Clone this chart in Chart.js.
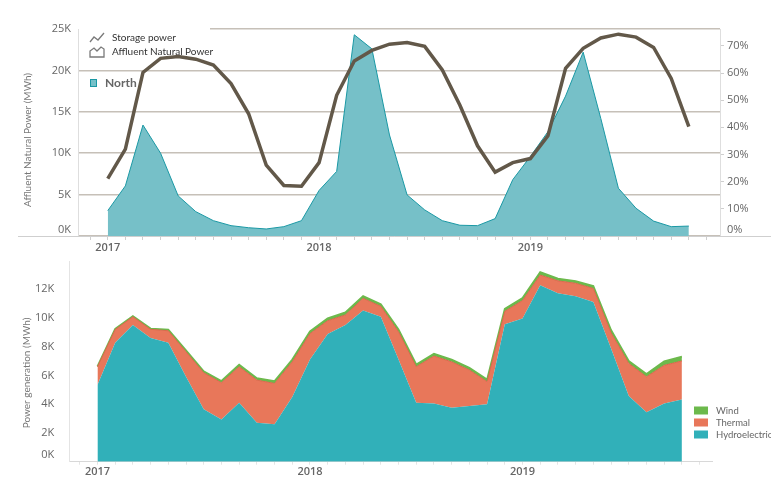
<!DOCTYPE html>
<html>
<head>
<meta charset="utf-8">
<script src="https://cdn.jsdelivr.net/npm/chart.js"></script>
<style>
  body { margin: 0; background: #fff; width: 771px; height: 477px; overflow: hidden; position: relative; }
  canvas { position: absolute; left: 0; }
  #topChart { top: 0; }
  #bottomChart { top: 252px; }
</style>
</head>
<body>
<canvas id="topChart" width="771" height="252"></canvas>
<canvas id="bottomChart" width="771" height="225"></canvas>
<script>
// データ
const months = [
  '2017-01','2017-02','2017-03','2017-04','2017-05','2017-06','2017-07','2017-08','2017-09','2017-10','2017-11','2017-12',
  '2018-01','2018-02','2018-03','2018-04','2018-05','2018-06','2018-07','2018-08','2018-09','2018-10','2018-11','2018-12',
  '2019-01','2019-02','2019-03','2019-04','2019-05','2019-06','2019-07','2019-08','2019-09','2019-10'
];
const yearLabels = ['2017', '2018', '2019'];

// 上段：North の自然流入電力 (MWh) と貯水率 (%)
const northMWh = [3060, 6050, 13400, 10000, 4840, 2940, 1850, 1250, 1000, 850, 1130, 1850,
  5500, 7800, 24300, 22600, 12200, 4960, 3150, 1850, 1300, 1250, 2100, 6800,
  9600, 12600, 16900, 22200, 14200, 5770, 3350, 1800, 1130, 1200];
const storagePct = [21.1, 32.0, 60.2, 65.4, 66.1, 65.1, 62.9, 56.1, 45.0, 26.1, 18.6, 18.3,
  27.0, 51.8, 64.4, 68.3, 70.6, 71.2, 69.8, 61.1, 48.1, 33.2, 23.5, 27.0,
  28.5, 36.9, 61.7, 69.1, 72.9, 74.3, 73.2, 69.4, 58.0, 40.3];
const annTicks = [0, 5000, 10000, 15000, 20000, 25000];
const pctTicks = [0, 10, 20, 30, 40, 50, 60, 70];

// 下段：発電量 (MWh)
const hydroMWh = [5330, 8270, 9500, 8600, 8270, 5900, 3640, 2940, 4100, 2700, 2600, 4500,
  7100, 8870, 9500, 10500, 10070, 7100, 4100, 4050, 3750, 3870, 4000, 9550,
  9960, 12270, 11700, 11500, 11100, 7870, 4560, 3430, 4050, 4330];
const thermalMWh = [1270, 920, 570, 600, 830, 1740, 2540, 2550, 2500, 2970, 2840, 2440,
  1800, 930, 700, 850, 730, 1930, 2500, 3290, 3190, 2500, 1560, 900,
  1240, 700, 870, 900, 940, 1090, 2270, 2470, 2650, 2670];
const windMWh = [30, 40, 50, 50, 80, 100, 100, 120, 140, 140, 160, 160,
  160, 160, 180, 160, 150, 160, 160, 160, 160, 160, 150, 170,
  180, 200, 160, 150, 170, 190, 170, 200, 270, 300];
const genTicks = [0, 2000, 4000, 6000, 8000, 10000, 12000];

// 色
const NORTH_FILL = 'rgba(118, 192, 200, 1)';
const NORTH_LINE = '#1a98a4';
const STORAGE_LINE = '#625849';
const HYDRO = '#31b0b9';
const THERMAL = '#e8775a';
const WIND = '#6cb94c';
const GRID = '#c6c0b8';

Chart.defaults.font.family = "'Open Sans', sans-serif";
Chart.defaults.color = '#666';

const toXY = arr => arr.map((v, i) => ({ x: i, y: v }));
const fixedTicks = list => scale => { scale.ticks = list.map(v => ({ value: v })); };
const monthTicks = scale => {
  scale.ticks = [];
  for (let i = -1; i < months.length + 1; i++) scale.ticks.push({ value: i });
};
// y軸の幅を固定し、ラベル分の余白は付けない
const fixWidth = w => s => { s.width = w; s.paddingTop = 0; s.paddingBottom = 0; };
const yearTick = v => (v % 12 === 0 ? yearLabels[v / 12] : '');
// 0 のラベルは少し上に（2行にして持ち上げる）
const kTick = v => (v === 0 ? ['0K', ''] : v / 1000 + 'K');
const pctTick = v => (v === 0 ? ['0%', ''] : v + '%');

// 上段の凡例・タイトル
const topExtras = {
  id: 'topExtras',
  beforeDatasetsDraw(chart) {
    const ctx = chart.ctx;
    ctx.save();
    ctx.fillStyle = '#fff';
    ctx.fillRect(79, 25, 131, 8);
    ctx.restore();
  },
  afterDraw(chart) {
    const ctx = chart.ctx;
    const a = chart.chartArea;
    ctx.save();
    // x軸線（左右に伸びる）
    ctx.strokeStyle = '#cfcfcf';
    ctx.lineWidth = 1;
    ctx.beginPath();
    ctx.moveTo(18, a.bottom + 0.5);
    ctx.lineTo(771, a.bottom + 0.5);
    ctx.stroke();

    // 凡例アイコン
    ctx.strokeStyle = '#7a7a7a';
    ctx.lineWidth = 1.3;
    ctx.beginPath();
    ctx.moveTo(90, 42); ctx.lineTo(94, 37); ctx.lineTo(98, 40); ctx.lineTo(104, 33);
    ctx.stroke();
    ctx.beginPath();
    ctx.moveTo(90, 57); ctx.lineTo(90, 51); ctx.lineTo(94, 48); ctx.lineTo(97, 51);
    ctx.lineTo(101, 47); ctx.lineTo(104, 49); ctx.lineTo(104, 57); ctx.closePath();
    ctx.stroke();

    ctx.fillStyle = '#333';
    ctx.font = "10px Lato, sans-serif";
    ctx.textBaseline = 'middle';
    ctx.textAlign = 'left';
    ctx.fillText('Storage power', 112, 38);
    ctx.fillText('Affluent Natural Power', 112, 52);

    ctx.fillStyle = NORTH_FILL;
    ctx.fillRect(90, 79, 7, 8);
    ctx.strokeStyle = NORTH_LINE;
    ctx.lineWidth = 1;
    ctx.strokeRect(90.5, 79.5, 6, 7);
    ctx.fillStyle = '#666';
    ctx.font = "bold 12px Lato, sans-serif";
    ctx.fillText('North', 105, 83);

    // 軸タイトル
    ctx.translate(28, 140);
    ctx.rotate(-Math.PI / 2);
    ctx.textAlign = 'center';
    ctx.fillStyle = '#777';
    ctx.font = "10px Lato, sans-serif";
    ctx.fillText('Affluent Natural Power (MWh)', 0, 0);
    ctx.restore();
  }
};

new Chart(document.getElementById('topChart'), {
  type: 'line',
  data: {
    datasets: [
      {
        label: 'Storage power',
        data: toXY(storagePct),
        yAxisID: 'y2',
        borderColor: STORAGE_LINE,
        borderWidth: 3.5,
        pointRadius: 0,
        fill: false,
        tension: 0,
      },
      {
        label: 'North',
        data: toXY(northMWh),
        yAxisID: 'y',
        borderColor: NORTH_LINE,
        borderWidth: 1,
        backgroundColor: NORTH_FILL,
        pointRadius: 0,
        fill: 'origin',
        tension: 0,
      },
    ],
  },
  options: {
    responsive: false,
    animation: false,
    layout: { padding: { top: 29, left: 0, right: 0, bottom: 0 } },
    plugins: { legend: { display: false }, tooltip: { enabled: false } },
    scales: {
      x: {
        type: 'linear',
        min: -1.69,
        max: 34.77,
        afterBuildTicks: monthTicks,
        afterFit: s => { s.height = 16; },
        grid: { drawOnChartArea: false, tickLength: 4, color: '#cfcfcf' },
        border: { display: false },
        ticks: { callback: yearTick, autoSkip: false, maxRotation: 0, padding: 1, color: '#666', font: { size: 11, weight: '600' } },
      },
      y: {
        position: 'left',
        min: 0,
        max: 25000,
        afterBuildTicks: fixedTicks(annTicks),
        afterFit: fixWidth(78),
        grid: { color: GRID, lineWidth: 1.5, drawTicks: false },
        border: { display: true, color: '#dedede' },
        ticks: { autoSkip: false, padding: 7, callback: kTick, font: { size: 11 } },
      },
      y2: {
        position: 'right',
        min: 0,
        max: 76.2,
        afterBuildTicks: fixedTicks(pctTicks),
        afterFit: fixWidth(51),
        grid: { drawOnChartArea: false, tickLength: 4, color: '#cfcfcf' },
        border: { display: true, color: '#dedede' },
        ticks: { autoSkip: false, padding: 3, callback: pctTick, font: { size: 11 } },
      },
    },
  },
  plugins: [topExtras],
});

// 下段の凡例・タイトル
const bottomExtras = {
  id: 'bottomExtras',
  afterDraw(chart) {
    const ctx = chart.ctx;
    ctx.save();
    const items = [['Wind', WIND], ['Thermal', THERMAL], ['Hydroelectric', HYDRO]];
    ctx.font = "9.5px Lato, sans-serif";
    ctx.textBaseline = 'middle';
    ctx.textAlign = 'left';
    items.forEach(([name, color], i) => {
      const y = 158.5 + i * 12;
      ctx.fillStyle = color;
      ctx.fillRect(694, y - 4, 14, 8);
      ctx.fillStyle = '#666';
      ctx.fillText(name, 716, y);
    });

    ctx.translate(27, 121);
    ctx.rotate(-Math.PI / 2);
    ctx.textAlign = 'center';
    ctx.fillStyle = '#777';
    ctx.font = "10px Lato, sans-serif";
    ctx.fillText('Power generation (MWh)', 0, 0);
    ctx.restore();
  }
};

new Chart(document.getElementById('bottomChart'), {
  type: 'line',
  data: {
    datasets: [
      {
        label: 'Hydroelectric',
        data: toXY(hydroMWh),
        borderColor: HYDRO,
        borderWidth: 0,
        backgroundColor: HYDRO,
        pointRadius: 0,
        fill: 'origin',
        tension: 0,
      },
      {
        label: 'Thermal',
        data: toXY(thermalMWh),
        borderColor: '#d9694c',
        borderWidth: 1,
        backgroundColor: THERMAL,
        pointRadius: 0,
        fill: '-1',
        tension: 0,
      },
      {
        label: 'Wind',
        data: toXY(windMWh),
        borderColor: WIND,
        borderWidth: 1.8,
        backgroundColor: WIND,
        pointRadius: 0,
        fill: '-1',
        tension: 0,
      },
    ],
  },
  options: {
    responsive: false,
    animation: false,
    layout: { padding: { top: 9.7, left: 0, right: 59, bottom: 0 } },
    plugins: { legend: { display: false }, tooltip: { enabled: false } },
    scales: {
      x: {
        type: 'linear',
        min: -1.59,
        max: 34.7,
        afterBuildTicks: monthTicks,
        afterFit: s => { s.height = 15.3; },
        grid: { drawOnChartArea: false, tickLength: 3, color: '#e4e4e4' },
        border: { display: true, color: '#d8d8d8' },
        ticks: { callback: yearTick, autoSkip: false, maxRotation: 0, padding: 1, color: '#666', font: { size: 11, weight: '600' } },
      },
      y: {
        stacked: true,
        min: 0,
        max: 13900,
        afterBuildTicks: fixedTicks(genTicks),
        afterFit: fixWidth(69.3),
        grid: { display: false },
        border: { display: true, color: '#e4e4e4' },
        ticks: { autoSkip: false, padding: 7, callback: kTick, font: { size: 11 } },
      },
    },
  },
  plugins: [bottomExtras],
});
</script>
</body>
</html>
